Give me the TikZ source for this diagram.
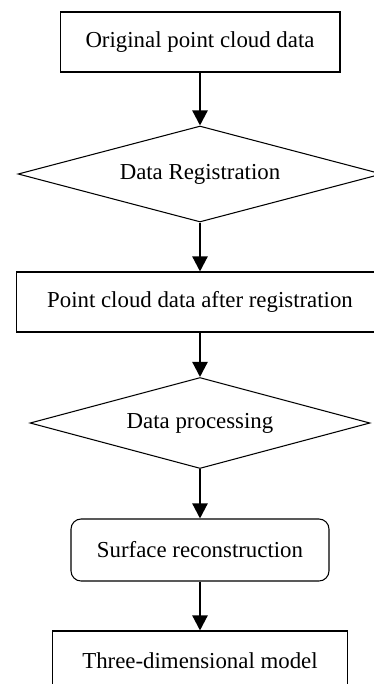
\documentclass[tikz,border=0pt]{standalone}
\usepackage{fontspec}
\setmainfont{Liberation Serif}
\usetikzlibrary{shapes.geometric,arrows.meta}
\begin{document}
\begin{tikzpicture}[x=0.02cm, y=-0.02cm,
	box/.style = {draw, rectangle, line width=0.6pt, inner sep=0pt, font=\fontsize{13}{15}\selectfont},
	decision/.style = {draw, diamond, aspect=3.8, line width=0.6pt, inner sep=0pt, font=\fontsize{13}{15}\selectfont},
	flow/.style = {line width=1.3pt, -{Triangle[width=0.3cm, length=0.3cm]}}]
				\useasboundingbox (0,0) rectangle (374,684);
				\clip (0,0) rectangle (374,684);
				\node[box, minimum width=5.6cm, minimum height=1.2cm] (orig) at (200,42) {Original point cloud data};
				\node[decision, minimum width=7.28cm, minimum height=1.92cm] (reg) at (200,174) {Data Registration};
				\node[box, minimum width=7.36cm, minimum height=1.2cm] (after) at (200,302) {Point cloud data after registration};
				\node[decision, minimum width=6.8cm, minimum height=1.82cm] (proc) at (200,423) {Data processing};
				\node[box, rounded corners=0.2cm, minimum width=5.16cm, minimum height=1.24cm] (surf) at (200,550) {Surface reconstruction};
				\node[box, minimum width=5.9cm, minimum height=1.2cm] (model) at (200,661) {Three-dimensional model};

				\draw[flow] (orig) -- (reg);
				\draw[flow] (reg) -- (after);
				\draw[flow] (after) -- (proc);
				\draw[flow] (proc) -- (surf);
				\draw[flow] (surf) -- (model);
			\end{tikzpicture}
\end{document}
